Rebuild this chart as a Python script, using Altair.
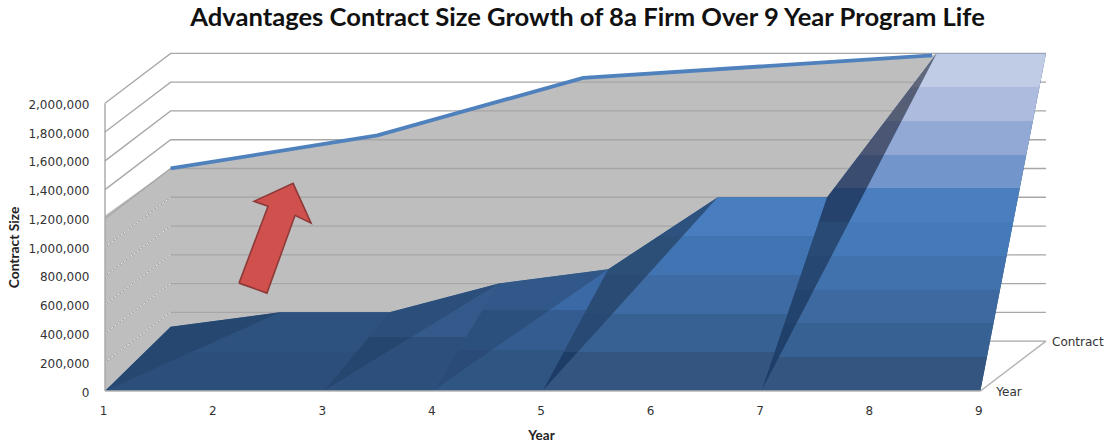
import altair as alt
import pandas as pd

# Series read along the rear edge of the 3-D area (depth = 1) and the front floor (depth = 0)
YEARS = [1, 2, 3, 4, 5, 6, 7, 8, 9]
REAR_VALUES = [100000, 200000, 200000, 400000, 500000, 1000000, 1000000, 2000000, 2000000]
UPPER_YEARS = [1.0, 2.89, 4.77, 7.96]
UPPER_VALUES = [1200000, 1430000, 1830000, 1986000]
LEVELS = [0, 200000, 400000, 600000, 800000, 1000000, 1200000, 1400000, 1600000, 1800000, 2000000]
ARROW_YEARS = [2.225, 2.48, 2.737, 2.883, 2.719, 2.362, 2.49]
ARROW_VALUES = [750000, 680500, 1222000, 1167000, 1444000, 1319000, 1285000]

# Oblique projection of the depth axis onto the chart plane
DEPTH_X = 0.6
DEPTH_Y = 347000

TITLE = "Advantages Contract Size Growth of 8a Firm Over 9 Year Program Life"
GRID = "#A8A6A6"
GRAY = "#BEBEBE"

BANDS_FULL = ["#33557F", "#386193", "#3E69A0", "#4272AE", "#457AB9", "#4A7EBF",
              "#7296CB", "#93A9D5", "#ACBBDE", "#C0CBE6"]
BANDS_WALL = ["#1E3D68", "#20406C", "#23436F", "#264772", "#284A75", "#24426C",
              "#3A4D70", "#4A5673", "#555E75", "#60677A"]


def front(year):
    return (year, 0, 0)


def rear(year):
    return (year, REAR_VALUES[year - 1], 1)


def table(vertices, group=0):
    rows = []
    for seq, (year, value, depth) in enumerate(vertices):
        rows.append({"x": year + DEPTH_X * depth, "y": value + DEPTH_Y * depth,
                     "seq": seq, "group": group})
    return pd.DataFrame(rows)


X_AXIS = alt.Axis(values=YEARS, format="d", grid=False, domain=False, ticks=False,
                  labelFont="DejaVu Sans", labelFontSize=12, labelColor="#333333",
                  labelPadding=14, labelFlush=False, labelAngle=0, labelOffset=-2, title="Year",
                  titleFont="Lato", titleFontSize=13.5, titleFontWeight="bold",
                  titleColor="#222222", titleX=436, titleY=37)
Y_AXIS = alt.Axis(values=LEVELS, format=",d", grid=False, domain=False, ticks=False,
                  labelFont="DejaVu Sans", labelFontSize=12, labelColor="#333333",
                  labelPadding=16, labelOffset=1, title="Contract Size",
                  titleFont="Lato", titleFontSize=13.8, titleFontWeight="bold",
                  titleColor="#222222", titleX=-84, titleY=194)
X_ENC = alt.X("x:Q", scale=alt.Scale(domain=[1, 9.6], nice=False, zero=False), axis=X_AXIS)
Y_ENC = alt.Y("y:Q", scale=alt.Scale(domain=[0, 2350000], nice=False), axis=Y_AXIS)


def polyline(vertices, **mark):
    return alt.Chart(table(vertices)).mark_line(**mark).encode(x=X_ENC, y=Y_ENC, order="seq:Q")


def banded(vertices, colors):
    n = len(colors)
    stops = []
    for i, color in enumerate(colors):
        stops.append({"offset": i / n, "color": color})
        stops.append({"offset": (i + 1) / n, "color": color})
    fill = {"gradient": "linear", "x1": 0, "y1": 1, "x2": 0, "y2": 0, "stops": stops}
    return polyline(vertices, fill=fill, strokeOpacity=0)


def grid_lines(levels, **mark):
    frames = [table([(1, v, 0), (1, v, 1), (9, v, 1)], group=v) for v in levels]
    return alt.Chart(pd.concat(frames)).mark_line(**mark).encode(
        x=X_ENC, y=Y_ENC, order="seq:Q", detail="group:N")


upper_edge = [(y, v, 1) for y, v in zip(UPPER_YEARS, UPPER_VALUES)]

layers = []

# Gray face behind the blue surface
layers.append(polyline(
    [front(1), (1, UPPER_VALUES[0] + 20000, 0)] + upper_edge + [rear(y) for y in YEARS[7::-1]],
    fill=GRAY, strokeOpacity=0))

# Wall gridlines: solid on white, white dashes across the gray part of the left wall
layers.append(grid_lines(LEVELS, stroke=GRID, strokeWidth=1.3))
layers.append(alt.Chart(pd.concat(
    [table([(1, v, 0), (1, v, 1)], group=v) for v in LEVELS[1:6]]
)).mark_line(stroke="#F4F4F4", strokeWidth=1, strokeDash=[2, 2]).encode(
    x=X_ENC, y=Y_ENC, order="seq:Q", detail="group:N"))

# Blue surface, drawn facet by facet with stepped shading
layers.append(polyline([front(1)] + [rear(y) for y in YEARS] + [front(9)],
                       fill="#2F5580", strokeOpacity=0))
layers.append(banded([front(1), rear(2), rear(3), front(3)], ["#2C4E7A", "#2E527F"]))
layers.append(banded([front(1), rear(1), rear(2)], ["#264870", "#264870"]))
layers.append(banded([front(3), rear(3), rear(4)], ["#24466F", "#2B4E7A"]))
layers.append(banded([front(3), rear(4), front(4)], ["#2D4F7B", "#335A8A"]))
layers.append(banded([front(4), rear(4), rear(5)], ["#2A4B78", "#2C507E", "#315888"]))
layers.append(banded([front(4), rear(5), front(5)], ["#2F5583", "#345C90", "#3A69A6"]))
layers.append(banded([front(5), rear(5), rear(6)],
                     ["#1E3D66", "#274973", "#2A4B74", "#2C4F78", "#2E5280"]))
layers.append(banded([front(5), rear(6), rear(7), front(7)],
                     ["#33557F", "#386193", "#3E6BA3", "#4174B2", "#487DBF"]))
layers.append(banded([front(7), rear(7), rear(8)], BANDS_WALL))
layers.append(banded([front(7), rear(8), rear(9), front(9)], BANDS_FULL))

# Frame edges
layers.append(polyline([front(1), (1, 2000000, 0)], stroke=GRID, strokeWidth=1.4))
layers.append(polyline([front(1), front(9), (9, 0, 1)], stroke="#B4B4B4", strokeWidth=1.5))

# Upper series line along the rear of the gray face
layers.append(polyline(upper_edge, stroke="#4F81BD", strokeWidth=3.8))

# Red arrow annotation
layers.append(polyline(
    [(y, v, 0) for y, v in zip(ARROW_YEARS + ARROW_YEARS[:1], ARROW_VALUES + ARROW_VALUES[:1])],
    fill="#CF504D", stroke="#8E3A38", strokeWidth=1.6))

# Depth axis labels
layers.append(alt.Chart(table([(9, 0, 1)])).mark_text(
    text="Contract", align="left", baseline="middle", dx=6, dy=1,
    font="DejaVu Sans", fontSize=12, color="#333333").encode(x=X_ENC, y=Y_ENC))
layers.append(alt.Chart(table([(9, 0, 0)])).mark_text(
    text="Year", align="left", baseline="middle", dx=16, dy=1,
    font="DejaVu Sans", fontSize=12, color="#333333").encode(x=X_ENC, y=Y_ENC))

chart = alt.layer(*layers).properties(
    width=941,
    height=338,
    padding={"left": 105, "top": 53, "right": 62, "bottom": 54},
    autosize=alt.AutoSizeParams(type="none"),
    title=alt.TitleParams(TITLE, font="Lato", fontSize=25.6, fontWeight="bold", color="#111111",
                          anchor="middle", dx=12, offset=16),
).configure_view(stroke=None)

chart.save("out.html", embed_options={"renderer": "svg", "actions": False})
